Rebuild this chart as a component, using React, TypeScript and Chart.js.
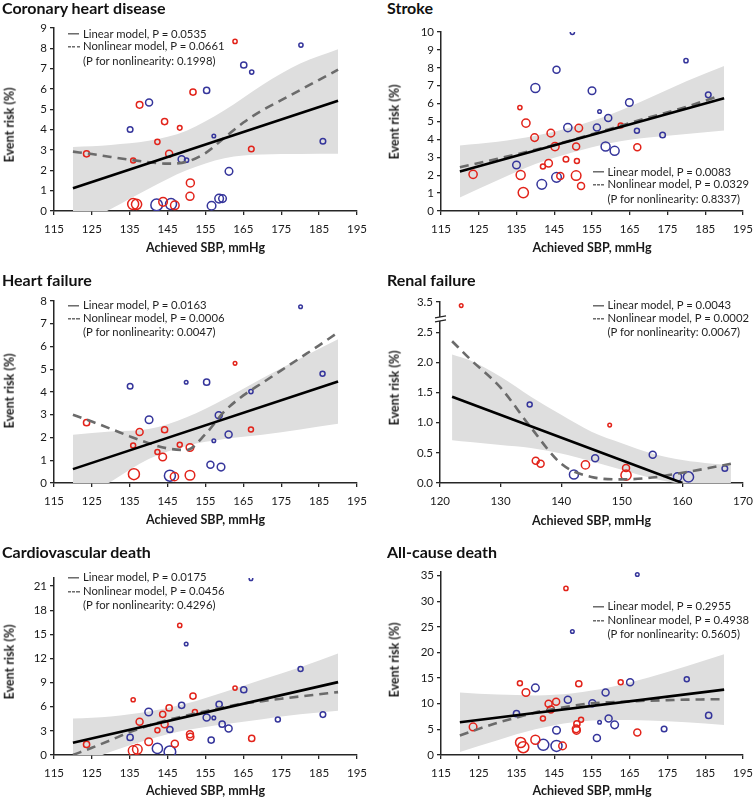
import React, { useEffect, useRef } from "react";
import { Chart, registerables } from "chart.js";
Chart.register(...registerables);

const FONT = "Lato, 'Open Sans', sans-serif";
const RED = "#e2231a";
const BLUE = "#35359b";
const BAND = "#dedede";
const AXIS = "#262626";

// ---------- tick labels ----------
const SBP_TICKS = [115, 125, 135, 145, 155, 165, 175, 185, 195];
const RENAL_SBP_TICKS = [120, 130, 140, 150, 160, 170];
const CHD_Y_TICKS = [0, 1, 2, 3, 4, 5, 6, 7, 8, 9];
const STROKE_Y_TICKS = [0, 1, 2, 3, 4, 5, 6, 7, 8, 9, 10];
const HF_Y_TICKS = [0, 1, 2, 3, 4, 5, 6, 7, 8];
const RENAL_Y_TICKS = [0, 0.5, 1.0, 1.5, 2.0, 2.5, 3.5];
const CV_Y_TICKS = [0, 3, 6, 9, 12, 15, 18, 21];
const ALL_Y_TICKS = [0, 5, 10, 15, 20, 25, 30, 35];

// ---------- Coronary heart disease ----------
const CHD_RED_SBP = [123.6, 135.9, 137.6, 142.3, 144.2, 148.2, 145.4, 151.7, 162.8, 167.1, 151.0, 150.9, 135.9, 136.8, 143.8, 146.9];
const CHD_RED_RISK = [2.81, 2.48, 5.22, 3.40, 4.40, 4.09, 2.82, 5.85, 8.34, 3.05, 1.38, 0.72, 0.34, 0.33, 0.45, 0.28];
const CHD_RED_W = [3.3, 2.7, 3.5, 2.8, 3.3, 2.5, 3.7, 3.3, 2.3, 3.0, 4.2, 4.2, 5.7, 5.3, 4.5, 4.5];
const CHD_BLUE_SBP = [135.1, 140.1, 148.7, 150.0, 157.2, 155.3, 165.1, 167.2, 180.2, 186.0, 161.2, 142.1, 145.9, 156.6, 158.6, 159.5];
const CHD_BLUE_RISK = [4.01, 5.34, 2.55, 2.50, 3.69, 5.93, 7.18, 6.83, 8.16, 3.43, 1.95, 0.30, 0.34, 0.26, 0.61, 0.61];
const CHD_BLUE_W = [3.0, 3.7, 3.7, 2.3, 2.0, 3.3, 3.3, 2.3, 2.3, 3.0, 4.0, 6.0, 5.7, 4.5, 4.5, 4.0];
const CHD_LIN_SBP = [120, 190];
const CHD_LIN_RISK = [1.12, 5.42];
const CHD_NL_SBP = [120, 125, 130, 135, 140, 145, 150, 155, 160, 165, 170, 175, 180, 185, 190];
const CHD_NL_RISK = [2.92, 2.8, 2.66, 2.52, 2.4, 2.33, 2.42, 2.85, 3.6, 4.35, 4.95, 5.45, 5.95, 6.45, 6.95];
const CHD_CI_SBP = [120, 130, 140, 150, 160, 170, 180, 190];
const CHD_CI_UP = [3.15, 3.25, 3.45, 3.95, 4.95, 6.2, 7.25, 7.96];
const CHD_CI_LO = [-0.9, 0.1, 1.1, 2.0, 2.6, 2.78, 2.8, 2.81];

// ---------- Stroke ----------
const STR_RED_SBP = [123.5, 135.9, 136.1, 136.8, 137.5, 139.8, 142.0, 143.5, 144.1, 145.2, 148.1, 146.6, 150.8, 151.0, 150.8, 151.5, 152.1, 162.6, 167.0];
const STR_RED_RISK = [2.05, 5.78, 2.01, 1.03, 4.91, 4.10, 2.48, 2.67, 4.35, 3.60, 2.89, 1.96, 3.60, 2.80, 1.98, 4.63, 1.40, 4.78, 3.56];
const STR_RED_W = [4.3, 2.3, 4.7, 5.3, 4.3, 4.0, 2.7, 4.0, 4.0, 4.3, 3.0, 3.7, 3.7, 2.7, 5.0, 4.0, 3.7, 2.7, 3.7];
const STR_BLUE_SBP = [135.0, 140.0, 141.7, 145.6, 145.6, 148.6, 149.8, 155.0, 157.0, 156.3, 158.6, 159.3, 161.0, 164.9, 166.9, 173.7, 179.9, 185.8];
const STR_BLUE_RISK = [2.57, 6.87, 1.49, 7.89, 1.88, 4.66, 9.98, 6.72, 5.56, 4.66, 3.60, 5.19, 3.36, 6.06, 4.48, 4.25, 8.40, 6.49];
const STR_BLUE_W = [4.0, 4.7, 5.0, 3.7, 5.0, 4.3, 2.3, 4.0, 2.0, 3.7, 4.7, 3.7, 4.7, 4.0, 2.7, 3.0, 2.3, 3.0];
const STR_LIN_SBP = [120, 190];
const STR_LIN_RISK = [2.2, 6.3];
const STR_NL_SBP = [120, 130, 140, 150, 160, 170, 180, 188];
const STR_NL_RISK = [2.45, 2.92, 3.42, 3.98, 4.6, 5.22, 5.82, 6.38];
const STR_CI_SBP = [120, 130, 140, 150, 160, 170, 180, 190];
const STR_CI_UP = [3.66, 3.87, 4.2, 4.7, 5.4, 6.3, 7.25, 8.1];
const STR_CI_LO = [0.75, 1.72, 2.62, 3.28, 3.8, 4.1, 4.3, 4.5];

// ---------- Heart failure ----------
const HF_RED_SBP = [123.6, 135.9, 137.6, 142.3, 144.2, 143.7, 148.2, 150.9, 136.1, 146.8, 150.9, 162.8, 167.0];
const HF_RED_RISK = [2.65, 1.65, 2.24, 1.36, 2.34, 1.14, 1.68, 1.56, 0.39, 0.28, 0.34, 5.26, 2.35];
const HF_RED_W = [3.3, 2.7, 3.7, 2.7, 3.3, 4.0, 2.7, 4.0, 5.7, 4.3, 5.0, 2.0, 2.7];
const HF_BLUE_SBP = [135.1, 140.1, 149.9, 155.3, 158.5, 157.2, 161.1, 156.3, 159.1, 145.6, 167.0, 180.1, 185.9];
const HF_BLUE_RISK = [4.25, 2.78, 4.43, 4.43, 2.98, 1.86, 2.13, 0.80, 0.70, 0.32, 4.02, 7.75, 4.80];
const HF_BLUE_W = [3.0, 4.0, 2.0, 3.3, 3.7, 2.0, 3.7, 3.7, 4.0, 5.7, 2.3, 2.0, 2.7];
const HF_LIN_SBP = [120, 190];
const HF_LIN_RISK = [0.61, 4.46];
const HF_NL_SBP = [120, 125, 130, 135, 140, 145, 150, 155, 160, 165, 170, 175, 180, 185, 190];
const HF_NL_RISK = [3.0, 2.7, 2.38, 2.05, 1.75, 1.52, 1.45, 2.15, 3.15, 3.85, 4.4, 4.95, 5.5, 6.05, 6.62];
const HF_CI_SBP = [120, 130, 140, 150, 160, 170, 180, 190];
const HF_CI_UP = [2.12, 2.26, 2.37, 2.89, 3.69, 4.6, 5.47, 6.32];
const HF_CI_LO = [-0.9, 0.06, 1.05, 1.63, 1.93, 2.12, 2.35, 2.6];

// ---------- Renal failure ----------
const REN_RED_SBP = [123.5, 135.8, 136.6, 144.0, 148.0, 150.7, 150.7];
const REN_RED_RISK = [3.44, 0.37, 0.32, 0.30, 0.96, 0.25, 0.13];
const REN_RED_W = [2.0, 3.7, 3.7, 4.3, 2.0, 3.7, 5.3];
const REN_BLUE_SBP = [134.8, 142.1, 145.6, 155.1, 159.2, 161.0, 167.0];
const REN_BLUE_RISK = [1.30, 0.14, 0.41, 0.47, 0.10, 0.10, 0.24];
const REN_BLUE_W = [2.7, 4.7, 3.7, 3.7, 4.3, 5.3, 3.0];
const REN_LIN_SBP = [122, 160];
const REN_LIN_RISK = [1.43, 0.0];
const REN_NL_SBP = [122, 125, 130, 135, 140, 145, 150, 155, 160, 165, 168];
const REN_NL_RISK = [2.35, 2.05, 1.58, 0.92, 0.32, 0.1, 0.06, 0.09, 0.17, 0.26, 0.32];
const REN_CI_SBP = [122, 125, 130, 135, 140, 145, 150, 155, 160, 165, 168];
const REN_CI_UP = [2.13, 2.03, 1.76, 1.43, 1.13, 0.85, 0.66, 0.49, 0.38, 0.32, 0.3];
const REN_CI_LO = [0.71, 0.68, 0.63, 0.58, 0.49, 0.36, 0.22, 0.08, 0.0, 0.0, 0.0];

// ---------- Cardiovascular death ----------
const CV_RED_SBP = [123.6, 135.9, 137.6, 135.9, 137.0, 142.3, 140.0, 143.7, 144.2, 145.4, 146.9, 148.2, 150.9, 151.0, 151.7, 152.2, 162.8, 167.2];
const CV_RED_RISK = [1.32, 6.87, 4.12, 0.54, 0.70, 3.09, 1.65, 5.06, 3.83, 5.85, 1.40, 16.1, 2.59, 2.26, 7.33, 5.35, 8.32, 2.06];
const CV_RED_W = [3.3, 2.3, 3.7, 5.0, 5.0, 2.7, 4.0, 3.3, 3.7, 3.3, 3.7, 2.3, 3.7, 3.7, 3.3, 2.7, 2.3, 3.3];
const CV_BLUE_SBP = [135.1, 140.0, 142.3, 145.6, 145.6, 148.7, 149.9, 155.3, 156.5, 157.2, 158.6, 159.4, 161.1, 165.1, 167.0, 174.1, 180.1, 186.0];
const CV_BLUE_RISK = [2.18, 5.35, 0.82, 0.41, 3.17, 6.18, 13.8, 4.65, 1.85, 4.61, 6.30, 3.83, 3.29, 8.11, 21.9, 4.40, 10.7, 5.02];
const CV_BLUE_W = [3.3, 4.0, 5.3, 6.0, 3.3, 3.3, 2.0, 3.7, 3.3, 2.0, 3.3, 3.3, 3.7, 3.3, 2.0, 2.7, 2.7, 3.0];
const CV_LIN_SBP = [120, 190];
const CV_LIN_RISK = [1.52, 9.06];
const CV_NL_SBP = [120, 125, 130, 135, 140, 145, 150, 155, 160, 165, 170, 175, 180, 185, 190];
const CV_NL_RISK = [0.0, 0.9, 1.85, 2.85, 3.65, 4.35, 4.9, 5.45, 5.95, 6.4, 6.7, 7.0, 7.28, 7.55, 7.82];
const CV_CI_SBP = [120, 130, 140, 150, 160, 170, 180, 190];
const CV_CI_UP = [4.53, 4.8, 5.4, 6.4, 7.83, 9.38, 10.91, 12.62];
const CV_CI_LO = [-1.49, 0.4, 1.94, 3.1, 3.83, 4.44, 5.05, 5.5];

// ---------- All-cause death ----------
const ALL_RED_SBP = [123.5, 135.9, 137.5, 142.0, 143.5, 144.1, 145.5, 148.1, 151.5, 152.1, 151.0, 150.8, 150.9, 162.6, 167.0, 136.1, 136.8, 140.0, 147.2];
const ALL_RED_RISK = [5.48, 14.0, 12.2, 7.13, 10.0, 8.9, 10.4, 32.5, 13.9, 6.9, 6.1, 5.1, 4.8, 14.2, 4.4, 2.44, 1.52, 2.97, 1.78];
const ALL_RED_W = [4.0, 2.7, 4.0, 2.7, 3.7, 3.7, 3.7, 2.3, 3.3, 2.7, 3.3, 4.0, 4.0, 2.7, 3.7, 5.3, 5.7, 4.7, 4.0];
const ALL_BLUE_SBP = [135.0, 140.0, 142.1, 145.6, 145.6, 148.6, 149.8, 155.1, 156.3, 157.0, 158.6, 159.4, 161.0, 165.1, 167.0, 174.1, 180.1, 185.9];
const ALL_BLUE_RISK = [8.06, 13.1, 1.98, 4.82, 1.78, 10.8, 24.1, 10.1, 3.3, 6.4, 12.2, 7.13, 5.88, 14.2, 35.2, 5.08, 14.8, 7.73];
const ALL_BLUE_W = [3.3, 4.0, 5.7, 4.0, 5.7, 3.7, 2.0, 3.7, 3.7, 2.0, 3.7, 3.7, 4.0, 3.7, 2.0, 3.0, 2.7, 3.3];
const ALL_LIN_SBP = [120, 190];
const ALL_LIN_RISK = [6.4, 12.75];
const ALL_NL_SBP = [120, 125, 130, 135, 140, 145, 150, 155, 160, 165, 170, 175, 180, 185, 190];
const ALL_NL_RISK = [3.8, 5.1, 6.3, 7.3, 8.3, 9.0, 9.6, 10.1, 10.3, 10.45, 10.6, 10.7, 10.8, 10.85, 10.9];
const ALL_CI_SBP = [120, 130, 140, 150, 160, 170, 180, 190];
const ALL_CI_UP = [12.2, 11.79, 11.62, 12.03, 13.26, 15.13, 17.32, 19.65];
const ALL_CI_LO = [0.6, 2.9, 5.0, 6.4, 6.85, 6.75, 6.38, 5.85];

const LEGENDS = [
  ["0.0535", "0.0661", "0.1998"],
  ["0.0083", "0.0329", "0.8337"],
  ["0.0163", "0.0006", "0.0047"],
  ["0.0043", "0.0002", "0.0067"],
  ["0.0175", "0.0456", "0.4296"],
  ["0.2955", "0.4938", "0.5605"],
];

const renalMap = (v: number) => (v > 2.75 ? v - 0.5 : v);

const zip = (xs: number[], ys: number[], map?: (v: number) => number) =>
  xs.map((x, i) => ({ x, y: map ? map(ys[i]) : ys[i] }));
const bubbles = (xs: number[], ys: number[], ws: number[], map?: (v: number) => number) =>
  xs.map((x, i) => ({ x, y: map ? map(ys[i]) : ys[i], r: ws[i] - 0.2 }));

type PanelDef = {
  title: string;
  legend: string[];
  red: [number[], number[], number[]];
  blue: [number[], number[], number[]];
  lin: [number[], number[]];
  nl: [number[], number[]];
  ci: [number[], number[], number[]];
  xMin: number; xMax: number; yMax: number;
  xTicks: number[]; yTicks: number[];
  yFmt?: (v: number) => string;
  yMap?: (v: number) => number;
  brk?: number;
  L: number; R: number; T: number; B: number; cx: number; cw: number;
  titleX: number; titleY: number;
  legX: number; legY: number[];
  xTitleY: number; yTitleX: number; yTitleY: number;
};

const PANELS: PanelDef[] = [
  {
    title: "Coronary heart disease", legend: LEGENDS[0],
    red: [CHD_RED_SBP, CHD_RED_RISK, CHD_RED_W], blue: [CHD_BLUE_SBP, CHD_BLUE_RISK, CHD_BLUE_W],
    lin: [CHD_LIN_SBP, CHD_LIN_RISK], nl: [CHD_NL_SBP, CHD_NL_RISK], ci: [CHD_CI_SBP, CHD_CI_UP, CHD_CI_LO],
    xMin: 115, xMax: 195, yMax: 9, xTicks: SBP_TICKS, yTicks: CHD_Y_TICKS,
    L: 54, R: 357, T: 28, B: 211, cx: 0, cw: 377,
    titleX: 2, titleY: 8, legX: 68, legY: [33.5, 46, 60.5], xTitleY: 247.5, yTitleX: 10, yTitleY: 125,
  },
  {
    title: "Stroke", legend: LEGENDS[1],
    red: [STR_RED_SBP, STR_RED_RISK, STR_RED_W], blue: [STR_BLUE_SBP, STR_BLUE_RISK, STR_BLUE_W],
    lin: [STR_LIN_SBP, STR_LIN_RISK], nl: [STR_NL_SBP, STR_NL_RISK], ci: [STR_CI_SBP, STR_CI_UP, STR_CI_LO],
    xMin: 115, xMax: 195, yMax: 10, xTicks: SBP_TICKS, yTicks: STROKE_Y_TICKS,
    L: 441, R: 743, T: 32, B: 211, cx: 386, cw: 368,
    titleX: 387, titleY: 8, legX: 592.5, legY: [171.5, 184, 198.5], xTitleY: 248, yTitleX: 395, yTitleY: 122,
  },
  {
    title: "Heart failure", legend: LEGENDS[2],
    red: [HF_RED_SBP, HF_RED_RISK, HF_RED_W], blue: [HF_BLUE_SBP, HF_BLUE_RISK, HF_BLUE_W],
    lin: [HF_LIN_SBP, HF_LIN_RISK], nl: [HF_NL_SBP, HF_NL_RISK], ci: [HF_CI_SBP, HF_CI_UP, HF_CI_LO],
    xMin: 115, xMax: 195, yMax: 8, xTicks: SBP_TICKS, yTicks: HF_Y_TICKS,
    L: 54, R: 357, T: 301, B: 483, cx: 0, cw: 377,
    titleX: 2, titleY: 280, legX: 68, legY: [305, 318, 332], xTitleY: 520, yTitleX: 10, yTitleY: 391,
  },
  {
    title: "Renal failure", legend: LEGENDS[3],
    red: [REN_RED_SBP, REN_RED_RISK, REN_RED_W], blue: [REN_BLUE_SBP, REN_BLUE_RISK, REN_BLUE_W],
    lin: [REN_LIN_SBP, REN_LIN_RISK], nl: [REN_NL_SBP, REN_NL_RISK], ci: [REN_CI_SBP, REN_CI_UP, REN_CI_LO],
    xMin: 120, xMax: 170, yMax: 3.0, xTicks: RENAL_SBP_TICKS, yTicks: RENAL_Y_TICKS,
    yFmt: (v) => v.toFixed(1), yMap: renalMap, brk: 2.73,
    L: 440, R: 743, T: 302, B: 483, cx: 386, cw: 368,
    titleX: 387, titleY: 280, legX: 592.5, legY: [305, 318, 332], xTitleY: 521, yTitleX: 395, yTitleY: 388,
  },
  {
    title: "Cardiovascular death", legend: LEGENDS[4],
    red: [CV_RED_SBP, CV_RED_RISK, CV_RED_W], blue: [CV_BLUE_SBP, CV_BLUE_RISK, CV_BLUE_W],
    lin: [CV_LIN_SBP, CV_LIN_RISK], nl: [CV_NL_SBP, CV_NL_RISK], ci: [CV_CI_SBP, CV_CI_UP, CV_CI_LO],
    xMin: 115, xMax: 195, yMax: 22, xTicks: SBP_TICKS, yTicks: CV_Y_TICKS,
    L: 54, R: 357, T: 578, B: 755, cx: 0, cw: 377,
    titleX: 2, titleY: 552, legX: 68, legY: [577, 591, 605], xTitleY: 791, yTitleX: 10, yTitleY: 662,
  },
  {
    title: "All-cause death", legend: LEGENDS[5],
    red: [ALL_RED_SBP, ALL_RED_RISK, ALL_RED_W], blue: [ALL_BLUE_SBP, ALL_BLUE_RISK, ALL_BLUE_W],
    lin: [ALL_LIN_SBP, ALL_LIN_RISK], nl: [ALL_NL_SBP, ALL_NL_RISK], ci: [ALL_CI_SBP, ALL_CI_UP, ALL_CI_LO],
    xMin: 115, xMax: 195, yMax: 35.7, xTicks: SBP_TICKS, yTicks: ALL_Y_TICKS,
    L: 441, R: 743, T: 572, B: 755, cx: 386, cw: 368,
    titleX: 387, titleY: 552, legX: 592.5, legY: [606, 620, 633.5], xTitleY: 791, yTitleX: 395, yTitleY: 660,
  },
];

const PAD_TOP = 12;
const X_AXIS_H = 34;
const LEG_COLOR = "#1f1f1f";

function Panel({ p }: { p: PanelDef }) {
  const ref = useRef<HTMLCanvasElement | null>(null);
  const cy = p.T - PAD_TOP;
  const ch = p.B - p.T + PAD_TOP + X_AXIS_H;
  const yW = p.L - p.cx;
  const padRight = p.cw - (p.R - p.cx);

  useEffect(() => {
    if (!ref.current) return;
    const map = p.yMap;
    const breakPlugin = {
      id: "axisBreak",
      afterDraw(chart: any) {
        if (p.brk === undefined) return;
        const ctx = chart.ctx;
        const y = chart.scales.y.getPixelForValue(p.brk);
        const x = chart.chartArea.left;
        ctx.save();
        ctx.fillStyle = "#fff";
        ctx.beginPath();
        ctx.moveTo(x - 5, y - 0.5);
        ctx.lineTo(x + 6, y - 2.5);
        ctx.lineTo(x + 6, y + 1.5);
        ctx.lineTo(x - 5, y + 3.5);
        ctx.closePath();
        ctx.fill();
        ctx.strokeStyle = AXIS;
        ctx.lineWidth = 1.3;
        ctx.beginPath();
        ctx.moveTo(x - 5, y - 0.5);
        ctx.lineTo(x + 6, y - 2.5);
        ctx.moveTo(x - 5, y + 3.5);
        ctx.lineTo(x + 6, y + 1.5);
        ctx.stroke();
        ctx.restore();
      },
    };
    const chart = new Chart(ref.current, {
      type: "scatter",
      data: {
        datasets: [
          {
            type: "line", data: zip(p.lin[0], p.lin[1], map), borderColor: "#000", borderWidth: 2.6,
            pointRadius: 0, fill: false, order: 0,
          },
          {
            type: "line", data: zip(p.nl[0], p.nl[1], map), borderColor: "#6b6b6b", borderWidth: 2.6,
            borderDash: [9, 6], pointRadius: 0, fill: false, cubicInterpolationMode: "monotone", order: 0,
          },
          {
            type: "bubble", data: bubbles(p.red[0], p.red[1], p.red[2], map), borderColor: RED,
            backgroundColor: "rgba(0,0,0,0)", borderWidth: 1.5, order: 1,
          },
          {
            type: "bubble", data: bubbles(p.blue[0], p.blue[1], p.blue[2], map), borderColor: BLUE,
            backgroundColor: "rgba(0,0,0,0)", borderWidth: 1.5, order: 1,
          },
          {
            type: "line", data: zip(p.ci[0], p.ci[1], map), borderWidth: 0, borderColor: BAND, pointRadius: 0,
            fill: "+1", backgroundColor: BAND, cubicInterpolationMode: "monotone", order: 2,
          },
          {
            type: "line", data: zip(p.ci[0], p.ci[2], map), borderWidth: 0, borderColor: BAND, pointRadius: 0,
            fill: false, cubicInterpolationMode: "monotone", order: 2,
          },
        ] as any,
      },
      options: {
        animation: false,
        responsive: false,
        devicePixelRatio: 1,
        events: [],
        layout: { padding: { left: 0, top: PAD_TOP, right: padRight, bottom: 0 } },
        plugins: { legend: { display: false }, tooltip: { enabled: false }, title: { display: false } },
        scales: {
          x: {
            type: "linear", min: p.xMin, max: p.xMax,
            afterBuildTicks: (s: any) => { s.ticks = p.xTicks.map((v) => ({ value: v })); },
            afterFit: (s: any) => { s.height = X_AXIS_H; s.paddingLeft = 0; s.paddingRight = 0; },
            ticks: {
              font: { family: FONT, size: 11.5 }, color: "#1a1a1a", padding: 7, maxRotation: 0, autoSkip: false,
              callback: (v: any) => String(v),
            },
            grid: { display: true, drawOnChartArea: false, drawTicks: true, tickLength: 4, color: AXIS, lineWidth: 1.3 },
            border: { display: true, color: AXIS, width: 1.5 },
          },
          y: {
            type: "linear", min: 0, max: p.yMax,
            afterBuildTicks: (s: any) => { s.ticks = p.yTicks.map((v) => ({ value: map ? map(v) : v })); },
            afterFit: (s: any) => { s.width = yW; s.paddingTop = 0; s.paddingBottom = 0; },
            ticks: {
              font: { family: FONT, size: 11.5 }, color: "#1a1a1a", padding: 3, autoSkip: false,
              callback: (_v: any, i: number) => (p.yFmt ? p.yFmt(p.yTicks[i]) : String(p.yTicks[i])),
            },
            grid: { display: true, drawOnChartArea: false, drawTicks: true, tickLength: 4, color: AXIS, lineWidth: 1.3 },
            border: { display: true, color: AXIS, width: 1.5 },
          },
        },
      } as any,
      plugins: [breakPlugin],
    });
    return () => chart.destroy();
  }, []);

  const legStyle: React.CSSProperties = {
    position: "absolute", transform: "translateY(-50%)", whiteSpace: "pre", lineHeight: 1,
    fontSize: 11.3, color: LEG_COLOR, fontFamily: FONT, display: "flex", alignItems: "center",
  };
  const solidGlyph: React.CSSProperties = {
    display: "inline-block", width: 11, height: 1.2, background: LEG_COLOR, marginRight: 4, marginTop: 1,
  };
  const dashGlyph: React.CSSProperties = {
    display: "inline-block", width: 11.5, height: 1.2, marginRight: 3.5, marginTop: 1,
    background: `repeating-linear-gradient(to right, ${LEG_COLOR} 0px, ${LEG_COLOR} 3px, transparent 3px, transparent 4.25px)`,
  };

  return (
    <>
      <canvas
        ref={ref}
        width={p.cw}
        height={ch}
        style={{ position: "absolute", left: p.cx, top: cy, width: p.cw, height: ch }}
      />
      <div style={{
        position: "absolute", left: p.titleX, top: p.titleY, transform: "translateY(-50%)", whiteSpace: "pre",
        lineHeight: 1, fontSize: 16, fontWeight: 700, color: "#111", fontFamily: FONT,
      }}>{p.title}</div>
      <div style={{ ...legStyle, left: p.legX, top: p.legY[0] }}>
        <span style={solidGlyph} /><span>{`Linear model, P = ${p.legend[0]}`}</span>
      </div>
      <div style={{ ...legStyle, left: p.legX, top: p.legY[1] }}>
        <span style={dashGlyph} /><span>{`Nonlinear model, P = ${p.legend[1]}`}</span>
      </div>
      <div style={{ ...legStyle, left: p.legX + 15, top: p.legY[2] }}>
        <span>{`(P for nonlinearity: ${p.legend[2]})`}</span>
      </div>
      <div style={{
        position: "absolute", left: (p.L + p.R) / 2, top: p.xTitleY, transform: "translate(-50%,-50%)",
        whiteSpace: "pre", lineHeight: 1, fontSize: 12.5, fontWeight: 700, color: "#1a1a1a", fontFamily: FONT,
      }}>Achieved SBP, mmHg</div>
      <div style={{
        position: "absolute", left: p.yTitleX, top: p.yTitleY, transform: "translate(-50%,-50%) rotate(-90deg)",
        whiteSpace: "pre", lineHeight: 1, fontSize: 12.5, fontWeight: 700, color: "#1a1a1a", fontFamily: FONT,
      }}>Event risk (%)</div>
    </>
  );
}

export default function App() {
  return (
    <div style={{
      position: "absolute", left: 0, top: 0, width: 754, height: 799, background: "#fff", overflow: "hidden",
    }}>
      {PANELS.map((p, i) => <Panel key={i} p={p} />)}
    </div>
  );
}
